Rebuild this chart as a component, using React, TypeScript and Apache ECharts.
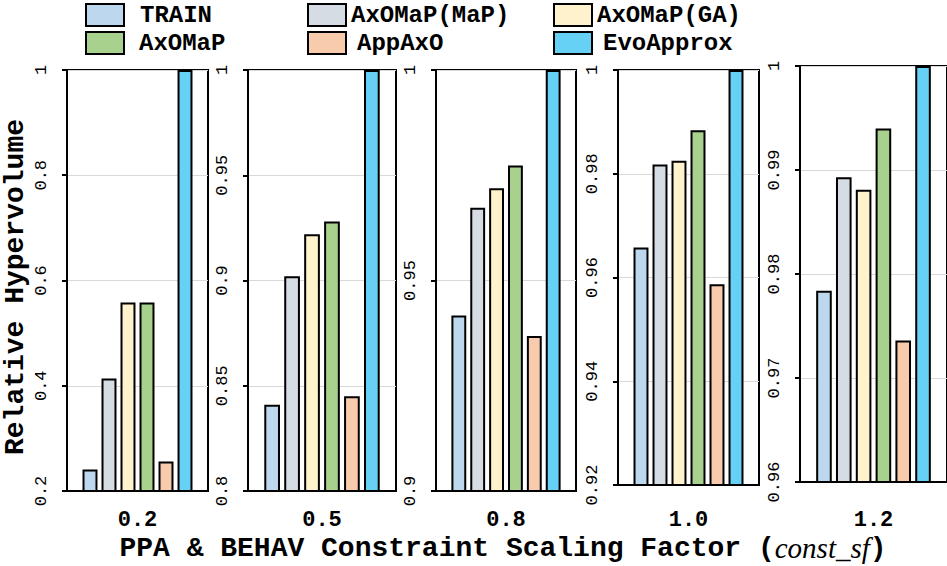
import React, { useEffect, useRef } from "react";
import * as echarts from "echarts";

const CATEGORIES = ["0.2", "0.5", "0.8", "1.0", "1.2"];
const METHODS = ["TRAIN", "AxOMaP(MaP)", "AxOMaP(GA)", "AxOMaP", "AppAxO", "EvoApprox"];
const TRAIN = [0.241, 0.841, 0.9417, 0.9658, 0.9784];
const AXOMAP_MAP = [0.414, 0.902, 0.9673, 0.9818, 0.9893];
const AXOMAP_GA = [0.558, 0.922, 0.9719, 0.9825, 0.9881];
const AXOMAP = [0.558, 0.928, 0.9773, 0.9884, 0.994];
const APPAXO = [0.256, 0.845, 0.9368, 0.9587, 0.9736];
const EVOAPPROX = [1, 1, 1, 1, 1];
const Y_MIN = [0.2, 0.8, 0.9, 0.92, 0.96];
const Y_MAX = [1, 1, 1, 1, 1];
const Y_INTERVAL = [0.2, 0.05, 0.05, 0.02, 0.01];

const SERIES_VALUES = [TRAIN, AXOMAP_MAP, AXOMAP_GA, AXOMAP, APPAXO, EVOAPPROX];
const COLORS = ["#bdd7ee", "#d6dce4", "#fff2cc", "#a9d18e", "#f8cbad", "#66d0f5"];

// layout
const GRID_LEFT = [67, 248, 436, 618, 800];
const GRID_WIDTH = [141, 148, 140, 141, 150];
const GRID_TOP = [70, 70, 70, 70, 66];
const GRID_HEIGHT = [421, 421, 421, 415, 416];
const LEG_LEFT = [85, 307, 553, 85, 307, 553];
const LEG_TOP = [3, 3, 3, 31, 31, 31];
const LEG_PAD = [11, 0, 0, 10, 6, 6];

const MONO = '"Liberation Mono", "DejaVu Sans Mono", monospace';

export default function App() {
  const ref = useRef<HTMLDivElement>(null);
  useEffect(() => {
    if (!ref.current) return;
    const chart = echarts.init(ref.current, null, { renderer: "svg" });
    const grids = CATEGORIES.map((_, i) => ({
      left: GRID_LEFT[i],
      width: GRID_WIDTH[i],
      top: GRID_TOP[i],
      height: GRID_HEIGHT[i],
      show: true,
      borderColor: "#000",
      borderWidth: 2,
      backgroundColor: "transparent",
    }));
    const xAxes = CATEGORIES.map((c, i) => ({
      type: "category",
      gridIndex: i,
      data: [c],
      axisLine: { show: true, lineStyle: { color: "#000", width: 2 } },
      axisTick: { show: false },
      axisLabel: {
        fontSize: 22,
        fontWeight: "bold",
        fontFamily: MONO,
        color: "#000",
        margin: 509 - (GRID_TOP[i] + GRID_HEIGHT[i]),
      },
      splitLine: { show: false },
    }));
    const yAxes = CATEGORIES.map((_, i) => ({
      type: "value",
      gridIndex: i,
      min: Y_MIN[i],
      max: Y_MAX[i],
      interval: Y_INTERVAL[i],
      axisLine: { show: true, lineStyle: { color: "#000", width: 2 } },
      axisTick: { show: true, length: 5, lineStyle: { color: "#000", width: 2 } },
      axisLabel: {
        rotate: 90,
        fontSize: 17,
        fontFamily: MONO,
        color: "#000",
        margin: 17,
      },
      splitLine: { show: true, lineStyle: { color: "#d9d9d9", width: 1.2 } },
    }));
    const series: any[] = [];
    CATEGORIES.forEach((_, i) => {
      METHODS.forEach((m, j) => {
        series.push({
          type: "bar",
          name: m,
          xAxisIndex: i,
          yAxisIndex: i,
          data: [SERIES_VALUES[j][i]],
          itemStyle: { color: COLORS[j], borderColor: "#000", borderWidth: 2 },
          barGap: "27%",
          barCategoryGap: "22%",
        });
      });
    });
    const legends = METHODS.map((m, j) => ({
      data: [m],
      left: LEG_LEFT[j],
      top: LEG_TOP[j],
      padding: 0,
      icon: "rect",
      itemWidth: 38,
      itemHeight: 22,
      selectedMode: false,
      textStyle: {
        fontFamily: MONO,
        fontWeight: "bold",
        fontSize: 24,
        color: "#000",
        padding: [0, 0, 0, LEG_PAD[j]],
      },
    }));
    chart.setOption({
      animation: false,
      backgroundColor: "#fff",
      grid: grids,
      xAxis: xAxes,
      yAxis: yAxes,
      legend: legends,
      series,
      graphic: [
        {
          type: "text",
          x: 15,
          y: 287,
          rotation: Math.PI / 2,
          style: {
            text: "Relative Hypervolume",
            fontFamily: MONO,
            fontWeight: "bold",
            fontSize: 28,
            fill: "#000",
            align: "center",
            verticalAlign: "middle",
          },
        },
        {
          type: "text",
          x: 503,
          y: 548,
          style: {
            text: "{m|PPA & BEHAV Constraint Scaling Factor (}{i|const_sf}{m|)}",
            rich: {
              m: { fontFamily: MONO, fontWeight: "bold", fontSize: 28, fill: "#000" },
              i: { fontFamily: '"Liberation Serif", serif', fontStyle: "italic", fontSize: 29, fill: "#000" },
            },
            fill: "#000",
            align: "center",
            verticalAlign: "middle",
          },
        },
      ],
    });
    return () => chart.dispose();
  }, []);
  return (
    <div
      ref={ref}
      style={{ position: "fixed", left: 0, top: 0, width: 947, height: 566 }}
    />
  );
}
